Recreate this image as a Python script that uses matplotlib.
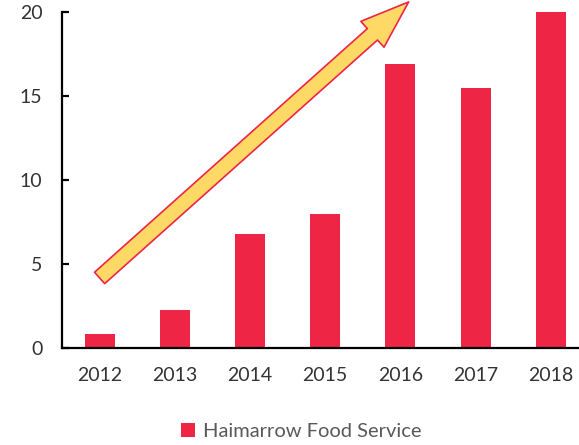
import matplotlib.pyplot as plt
from matplotlib.patches import FancyArrowPatch

years = ['2012', '2013', '2014', '2015', '2016', '2017', '2018']
values = [0.83, 2.26, 6.8, 8.0, 16.9, 15.5, 20.0]
series_name = 'Haimarrow Food Service'
yticks = [0, 5, 10, 15, 20]

bar_color = '#EE2544'
arrow_fill = '#FFD966'

plt.rcParams['font.family'] = ['Lato', 'DejaVu Sans']

fig = plt.figure(figsize=(5.79, 4.45), dpi=100)
ax = fig.add_axes([62 / 579, 97 / 445, 517 / 579, 336 / 445])

x = list(range(len(years)))
ax.bar(x, values, width=0.4, color=bar_color, label=series_name)

ax.set_xlim(-0.5, 6.375)
ax.set_ylim(0, 20)
ax.set_xticks(x)
ax.set_xticklabels(years)
ax.set_yticks(yticks)

ax.spines['top'].set_visible(False)
ax.spines['right'].set_visible(False)
for s in ('left', 'bottom'):
    ax.spines[s].set_linewidth(1.6)
    ax.spines[s].set_color('black')

ax.tick_params(axis='x', length=0, pad=14, labelsize=14, labelcolor='#333333')
ax.tick_params(axis='y', direction='in', length=5, width=1.6, pad=14,
               labelsize=14, labelcolor='#333333')

# 矢印
arrow = FancyArrowPatch((0, 4.17), (4.11, 20.6),
                        arrowstyle='simple,head_length=35,head_width=25,tail_width=11',
                        mutation_scale=1, shrinkA=0, shrinkB=0,
                        facecolor=arrow_fill, edgecolor=bar_color, linewidth=1.2,
                        clip_on=False, zorder=5)
ax.add_patch(arrow)

fig.legend(loc='lower center', bbox_to_anchor=(0.52, -0.03), frameon=False,
           fontsize=14.5, labelcolor='#595959', handlelength=0.7, handleheight=0.7,
           handletextpad=0.4)

fig.savefig('out.png', dpi=100)
